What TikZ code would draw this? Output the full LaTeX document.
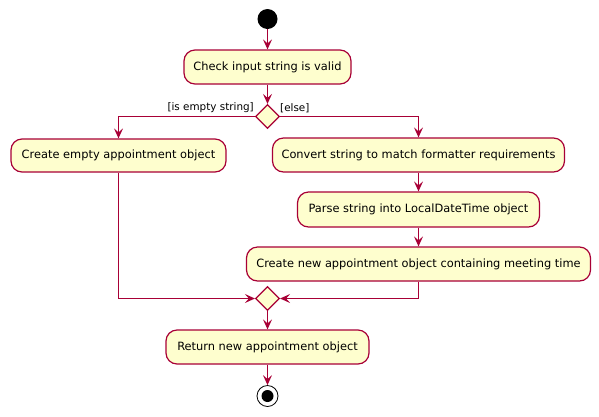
\documentclass[tikz,border=0pt]{standalone}
\usepackage{fontspec}
\setmainfont{DejaVu Sans}
\usetikzlibrary{arrows.meta,shapes.geometric}
\definecolor{pfill}{HTML}{FEFECE}
\definecolor{pline}{HTML}{A80036}
\tikzset{
  act/.style={draw=pline,fill=pfill,line width=1.2pt,rounded corners=11pt,inner sep=0pt,font=\fontsize{11.4}{13}\selectfont,align=center},
  dec/.style={draw=pline,fill=pfill,line width=1.2pt,diamond,minimum width=24pt,minimum height=24pt,inner sep=0pt},
  flow/.style={draw=pline,line width=1.2pt,-{Stealth[length=10pt,width=9pt,inset=4pt]}},
  glabel/.style={font=\fontsize{10.4}{12}\selectfont,inner sep=0pt}
}
\begin{document}
\begin{tikzpicture}[x=1pt,y=-1pt]
\useasboundingbox (0,0) rectangle (599,416);
\node[circle,fill=black,minimum size=20pt,inner sep=0pt] (start) at (267.5,19) {};
\node[act,minimum width=167pt,minimum height=34pt] (check) at (267.5,67) {Check input string is valid};
\node[dec] (d1) at (267.5,116.5) {};
\node[act,minimum width=215pt,minimum height=33pt] (empty) at (118.5,155.5) {Create empty appointment object};
\node[act,minimum width=292pt,minimum height=34pt] (conv) at (418.5,155) {Convert string to match formatter requirements};
\node[act,minimum width=242pt,minimum height=35pt] (parse) at (418.5,209.5) {Parse string into LocalDateTime object};
\node[act,minimum width=344pt,minimum height=34pt] (create) at (418.5,264) {Create new appointment object containing meeting time};
\node[dec] (d2) at (267.5,298.5) {};
\node[act,minimum width=203pt,minimum height=34pt] (ret) at (267.5,347) {Return new appointment object};
\node[circle,draw=black,fill=white,line width=0.8pt,minimum size=21pt,inner sep=0pt] (stop) at (267.5,396) {};
\node[circle,fill=black,minimum size=12pt,inner sep=0pt] (stopin) at (267.5,396) {};

\node[glabel,anchor=south east] (lab1) at (254,113) {[is empty string]};
\node[glabel,anchor=south west] (lab2) at (280,113) {[else]};

\draw[flow] (start) -- (check);
\draw[flow] (check) -- (d1);
\draw[flow] (d1.west) -| (empty.north);
\draw[flow] (d1.east) -| (conv.north);
\draw[flow] (conv) -- (parse);
\draw[flow] (parse) -- (create);
\draw[flow] (empty.south) |- (d2.west);
\draw[flow] (create.south) |- (d2.east);
\draw[flow] (d2) -- (ret);
\draw[flow] (ret) -- (stop);
\end{tikzpicture}
\end{document}
